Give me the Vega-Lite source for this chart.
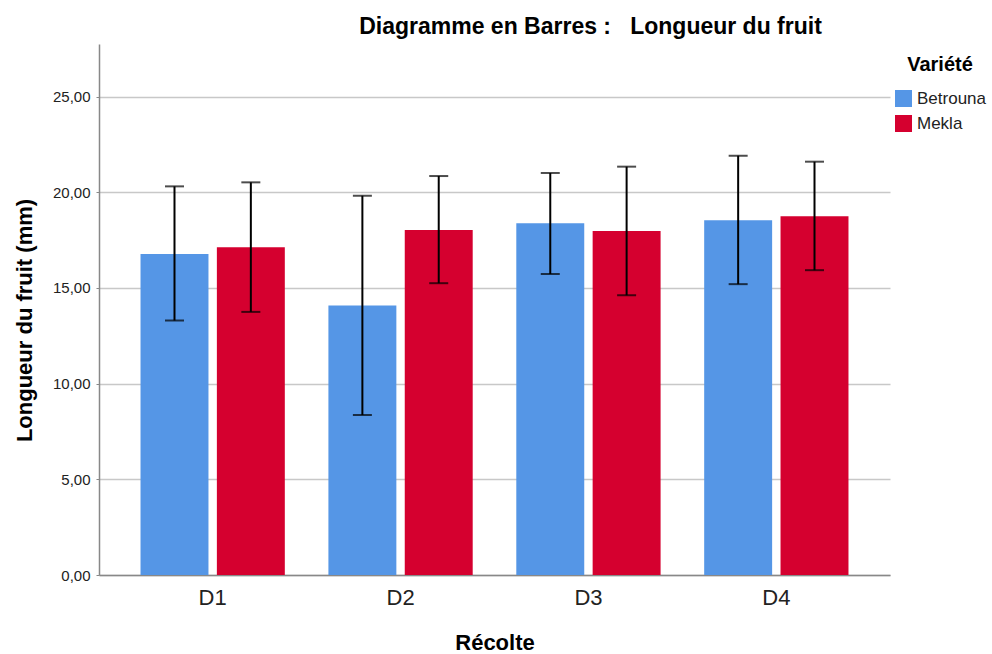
{
  "$schema": "https://vega.github.io/schema/vega-lite/v6.json",
  "width": 791,
  "height": 531,
  "autosize": "none",
  "padding": {"left": 99, "top": 44, "right": 102, "bottom": 79},
  "background": "white",
  "config": {
    "font": "Liberation Sans",
    "view": {"stroke": null}
  },
  "title": {
    "text": "Diagramme en Barres :\u00a0\u00a0\u00a0Longueur du fruit",
    "anchor": "middle",
    "dx": 96,
    "offset": 5,
    "fontSize": 23,
    "fontWeight": "bold",
    "font": "Liberation Sans",
    "color": "#000000"
  },
  "data": {
    "values": [
      {"Recolte": "D1", "Variete": "Betrouna", "mean": 16.78, "lo": 13.30, "hi": 20.31},
      {"Recolte": "D1", "Variete": "Mekla", "mean": 17.13, "lo": 13.75, "hi": 20.52},
      {"Recolte": "D2", "Variete": "Betrouna", "mean": 14.08, "lo": 8.36, "hi": 19.82},
      {"Recolte": "D2", "Variete": "Mekla", "mean": 18.03, "lo": 15.25, "hi": 20.85},
      {"Recolte": "D3", "Variete": "Betrouna", "mean": 18.38, "lo": 15.73, "hi": 21.01},
      {"Recolte": "D3", "Variete": "Mekla", "mean": 17.98, "lo": 14.62, "hi": 21.34},
      {"Recolte": "D4", "Variete": "Betrouna", "mean": 18.54, "lo": 15.20, "hi": 21.91},
      {"Recolte": "D4", "Variete": "Mekla", "mean": 18.75, "lo": 15.93, "hi": 21.60}
    ]
  },
  "encoding": {
    "x": {
      "field": "Recolte",
      "type": "nominal",
      "scale": {"paddingInner": 0.232, "paddingOuter": 0.221},
      "axis": {
        "title": "Récolte",
        "titleFontSize": 22,
        "titleFontWeight": "bold",
        "titleColor": "#000000",
        "titlePadding": 24,
        "labelAngle": 0,
        "labelFontSize": 22,
        "labelColor": "#222222",
        "labelPadding": 12,
        "ticks": false,
        "domainColor": "#888888",
        "domainWidth": 1.5,
        "grid": false
      }
    },
    "xOffset": {
      "field": "Variete",
      "type": "nominal",
      "scale": {"paddingInner": 0.11, "paddingOuter": 0}
    }
  },
  "layer": [
    {
      "mark": {"type": "bar"},
      "encoding": {
        "y": {
          "field": "mean",
          "type": "quantitative",
          "scale": {"domain": [0, 27.75], "nice": false},
          "axis": {
            "title": "Longueur du fruit (mm)",
            "titleFontSize": 22,
            "titleFontWeight": "bold",
            "titleColor": "#000000",
            "titlePadding": 16,
            "titleY": 276,
            "values": [0, 5, 10, 15, 20, 25],
            "labelExpr": "replace(format(datum.value, '.2f'), '.', ',')",
            "labelFontSize": 15,
            "labelColor": "#222222",
            "labelPadding": 6,
            "tickSize": 3,
            "tickColor": "#888888",
            "domainColor": "#888888",
            "domainWidth": 1.5,
            "gridColor": "#c8c8c8",
            "gridWidth": 1.5
          }
        },
        "color": {
          "field": "Variete",
          "type": "nominal",
          "scale": {"domain": ["Betrouna", "Mekla"], "range": ["#5596E6", "#D5002F"]},
          "legend": {
            "title": "Variété",
            "orient": "right",
            "offset": -6,
            "padding": 11,
            "titleAnchor": "middle",
            "titleFontSize": 20,
            "titleFontWeight": "bold",
            "titleColor": "#000000",
            "titlePadding": 15,
            "labelFontSize": 17,
            "labelColor": "#222222",
            "symbolType": "square",
            "symbolSize": 289,
            "symbolStrokeWidth": 0,
            "rowPadding": 7,
            "labelOffset": 5
          }
        }
      }
    },
    {
      "mark": {"type": "rule", "color": "#000000", "strokeWidth": 2},
      "encoding": {
        "y": {"field": "lo", "type": "quantitative"},
        "y2": {"field": "hi"}
      }
    },
    {
      "mark": {"type": "tick", "color": "#000000", "thickness": 2, "size": 19},
      "encoding": {
        "y": {"field": "hi", "type": "quantitative"}
      }
    },
    {
      "mark": {"type": "tick", "color": "#000000", "thickness": 2, "size": 19},
      "encoding": {
        "y": {"field": "lo", "type": "quantitative"}
      }
    }
  ]
}
